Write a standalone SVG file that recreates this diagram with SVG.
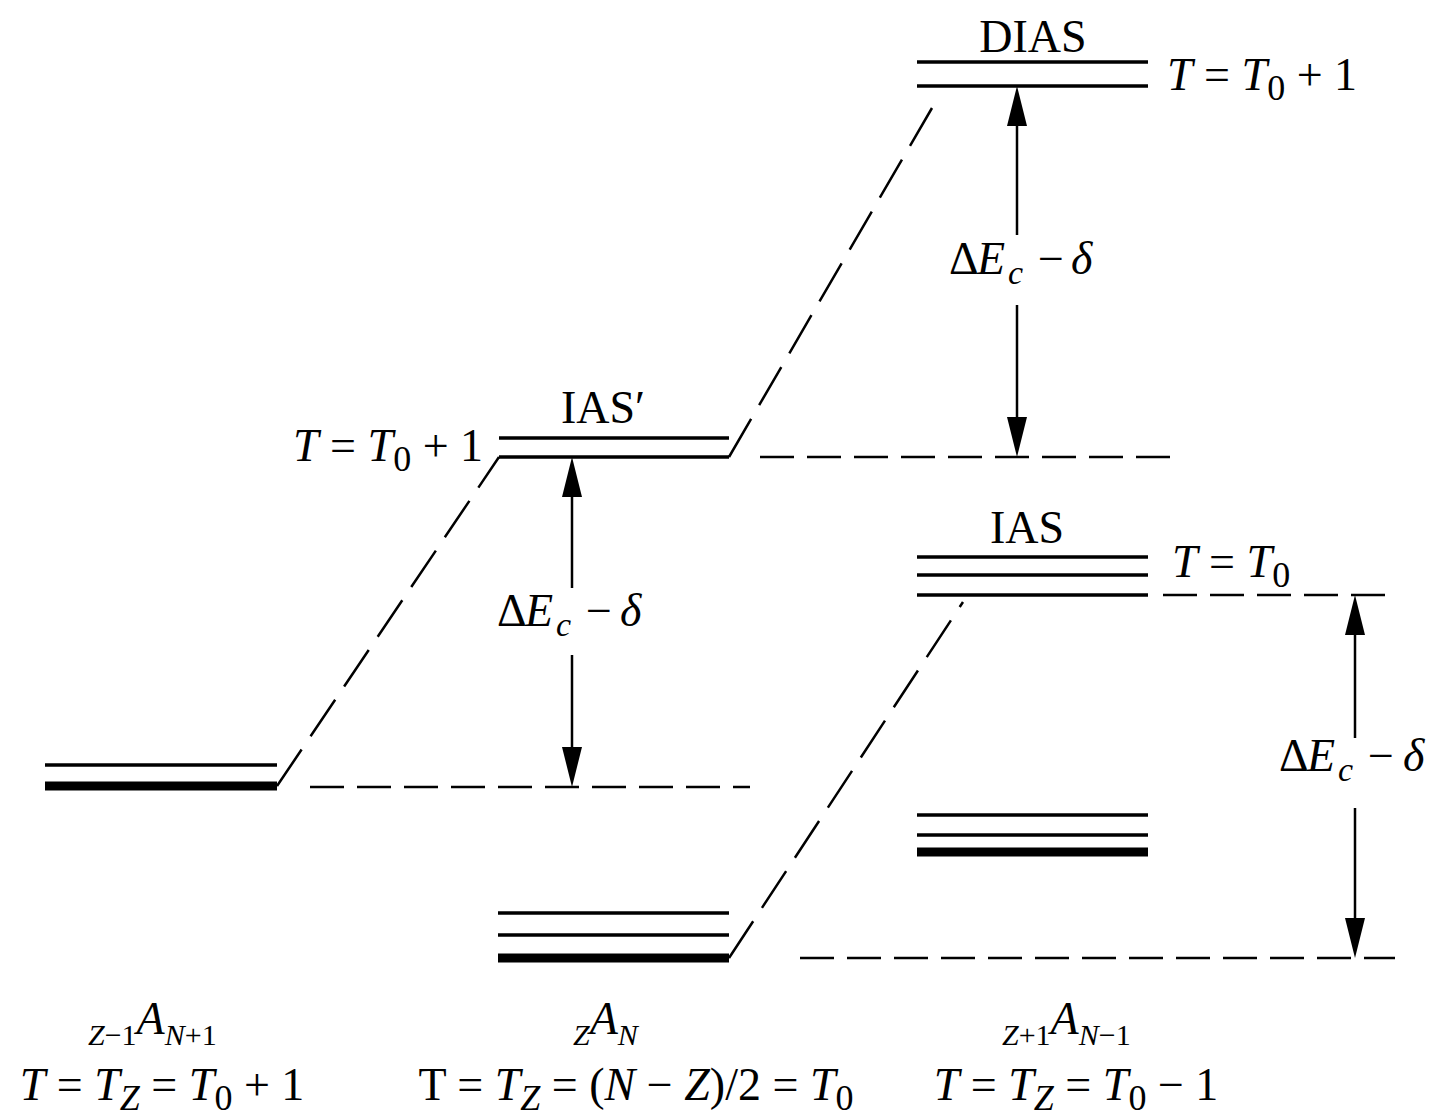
<svg xmlns="http://www.w3.org/2000/svg" width="1441" height="1116" viewBox="0 0 1441 1116">
<style>
text{font-family:"Liberation Serif","Times New Roman",serif;fill:#000}
.lab{font-size:46px}
.eq{font-size:46px}
.it{font-style:italic}
.sb{font-size:36px}
.nz{font-size:30px}
.de{font-size:46px}
.dsub{font-size:34px;font-style:italic}
.lv{stroke:#000;stroke-width:3.5;fill:none}
.lvt{stroke:#000;stroke-width:9;fill:none}
.dh{stroke:#000;stroke-width:2.5;stroke-dasharray:34 13;fill:none}
.dd{stroke:#000;stroke-width:2.5;stroke-dasharray:44 16;fill:none}
.ar{stroke:#000;stroke-width:2.5;fill:none}
</style>
<defs>
<marker id="ah" viewBox="0 0 40 20" markerWidth="40" markerHeight="20" refX="30" refY="10" orient="auto-start-reverse" markerUnits="userSpaceOnUse">
<path d="M0,0 L40,10 L0,20 z" fill="#000"/>
</marker>
</defs>

<g id="connectors">
<line class="dd" x1="277" y1="786" x2="499" y2="457"/>
<line class="dd" x1="729" y1="457" x2="932" y2="108"/>
<line class="dd" x1="729" y1="958" x2="963" y2="602"/>
<line class="dh" x1="760" y1="457" x2="1175" y2="457"/>
<line class="dh" x1="310" y1="787" x2="750" y2="787"/>
<line class="dh" x1="1163" y1="595" x2="1395" y2="595"/>
<line class="dh" x1="800" y1="958" x2="1395" y2="958"/>
<line class="ar" x1="1017" y1="96" x2="1017" y2="235" marker-start="url(#ah)"/>
<line class="ar" x1="1017" y1="305" x2="1017" y2="447" marker-end="url(#ah)"/>
<line class="ar" x1="572" y1="467" x2="572" y2="588" marker-start="url(#ah)"/>
<line class="ar" x1="572" y1="655" x2="572" y2="777" marker-end="url(#ah)"/>
<line class="ar" x1="1355" y1="605" x2="1355" y2="738" marker-start="url(#ah)"/>
<line class="ar" x1="1355" y1="808" x2="1355" y2="948" marker-end="url(#ah)"/>
</g>

<g id="dias">
<line class="lv" x1="917" y1="62" x2="1148" y2="62"/>
<line class="lv" x1="917" y1="86" x2="1148" y2="86"/>
<text class="lab" x="1033" y="52" text-anchor="middle">DIAS</text>
<text class="eq" x="1167" y="90"><tspan class="it">T</tspan> = <tspan class="it">T</tspan><tspan class="sb" dy="10">0</tspan><tspan dy="-10"> + 1</tspan></text>
</g>

<g id="ias-prime">
<line class="lv" x1="499" y1="438" x2="729" y2="438"/>
<line class="lv" x1="499" y1="457" x2="729" y2="457"/>
<text class="lab" x="603" y="423" text-anchor="middle">IAS′</text>
<text class="eq" x="293" y="461"><tspan class="it">T</tspan> = <tspan class="it">T</tspan><tspan class="sb" dy="10">0</tspan><tspan dy="-10"> + 1</tspan></text>
</g>

<g id="ias">
<line class="lv" x1="917" y1="557" x2="1148" y2="557"/>
<line class="lv" x1="917" y1="575" x2="1148" y2="575"/>
<line class="lv" x1="917" y1="595" x2="1148" y2="595"/>
<text class="lab" x="1027" y="543" text-anchor="middle">IAS</text>
<text class="eq" x="1172" y="577"><tspan class="it">T</tspan> = <tspan class="it">T</tspan><tspan class="sb" dy="10">0</tspan></text>
</g>

<g id="left-ground">
<line class="lv" x1="45" y1="765" x2="277" y2="765"/>
<line class="lvt" x1="45" y1="786" x2="277" y2="786"/>
</g>

<g id="middle-ground">
<line class="lv" x1="498" y1="913" x2="729" y2="913"/>
<line class="lv" x1="498" y1="935" x2="729" y2="935"/>
<line class="lvt" x1="498" y1="958" x2="729" y2="958"/>
</g>

<g id="right-ground">
<line class="lv" x1="917" y1="815" x2="1148" y2="815"/>
<line class="lv" x1="917" y1="835" x2="1148" y2="835"/>
<line class="lvt" x1="917" y1="852" x2="1148" y2="852"/>
</g>

<g id="gap-labels">
<text class="de" y="274"><tspan x="949">Δ</tspan><tspan x="977" class="it">E</tspan><tspan x="1008" class="dsub" dy="10">c</tspan><tspan x="1038" dy="-10">−</tspan><tspan x="1071" class="it">δ</tspan></text>
<text class="de" y="626"><tspan x="497">Δ</tspan><tspan x="525" class="it">E</tspan><tspan x="556" class="dsub" dy="10">c</tspan><tspan x="586" dy="-10">−</tspan><tspan x="620" class="it">δ</tspan></text>
<text class="de" y="771"><tspan x="1279">Δ</tspan><tspan x="1307" class="it">E</tspan><tspan x="1338" class="dsub" dy="10">c</tspan><tspan x="1368" dy="-10">−</tspan><tspan x="1403" class="it">δ</tspan></text>
</g>

<g id="nucleus-left">
<text y="1045"><tspan x="88" class="nz"><tspan class="it">Z</tspan>−1</tspan><tspan class="eq it" dy="-11">A</tspan><tspan class="nz" dy="11"><tspan class="it">N</tspan>+1</tspan></text>
<text class="eq" x="162" y="1100" text-anchor="middle"><tspan class="it">T</tspan> = <tspan class="it">T</tspan><tspan class="sb it" dy="10">Z</tspan><tspan dy="-10"> = </tspan><tspan class="it">T</tspan><tspan class="sb" dy="10">0</tspan><tspan dy="-10"> + 1</tspan></text>
</g>

<g id="nucleus-middle">
<text y="1045"><tspan x="573" class="nz it">Z</tspan><tspan class="eq it" dy="-11">A</tspan><tspan class="nz it" dy="11">N</tspan></text>
<text class="eq" x="636" y="1100" text-anchor="middle">T = <tspan class="it">T</tspan><tspan class="sb it" dy="10">Z</tspan><tspan dy="-10"> = (</tspan><tspan class="it">N</tspan> − <tspan class="it">Z</tspan>)/2 = <tspan class="it">T</tspan><tspan class="sb" dy="10">0</tspan></text>
</g>

<g id="nucleus-right">
<text y="1045"><tspan x="1002" class="nz"><tspan class="it">Z</tspan>+1</tspan><tspan class="eq it" dy="-11">A</tspan><tspan class="nz" dy="11"><tspan class="it">N</tspan>−1</tspan></text>
<text class="eq" x="1076" y="1100" text-anchor="middle"><tspan class="it">T</tspan> = <tspan class="it">T</tspan><tspan class="sb it" dy="10">Z</tspan><tspan dy="-10"> = </tspan><tspan class="it">T</tspan><tspan class="sb" dy="10">0</tspan><tspan dy="-10"> − 1</tspan></text>
</g>
</svg>
